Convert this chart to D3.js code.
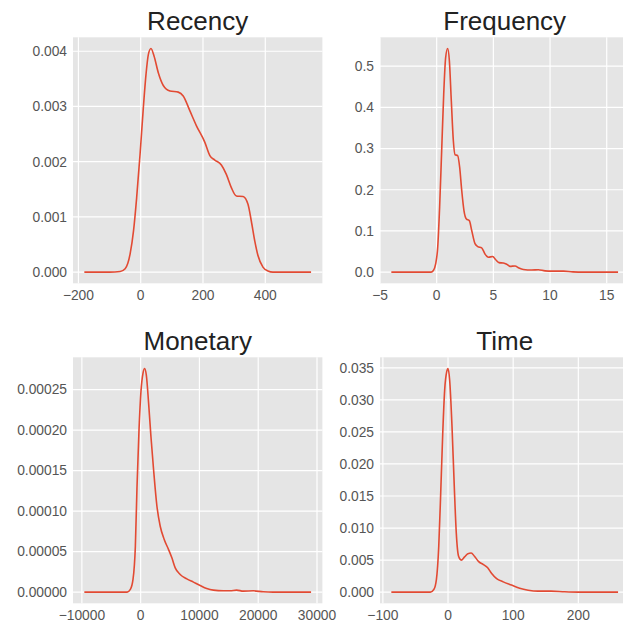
<!DOCTYPE html>
<html>
<head>
<meta charset="utf-8">
<script src="https://cdn.jsdelivr.net/npm/d3@7"></script>
<style>
  body { margin: 0; background: #ffffff; }
  text { font-family: "Liberation Sans", Arial, sans-serif; }
</style>
</head>
<body>
<div id="vis"></div>
<script>
// density curves (x, density)
var recencyX = [-181, -100, -66, -50, -34, -23, -13, -2, 8.5, 17, 24.5, 33, 43, 56.5, 72.5, 94, 120.5, 136.5, 158, 179, 206, 222, 238, 259, 275, 291, 307, 328.5, 344.5, 355, 366, 376.5, 392.5, 408.5, 424.5, 547];
var recencyY = [0, 0, 0.00001, 0.00006, 0.00033, 0.00075, 0.00135, 0.00214, 0.00298, 0.00358, 0.00394, 0.00405, 0.00391, 0.00361, 0.00338, 0.00328, 0.00326, 0.00319, 0.00292, 0.00265, 0.00235, 0.00211, 0.00203, 0.00194, 0.00177, 0.00153, 0.00138, 0.00137, 0.00123, 0.00093, 0.00057, 0.0003, 0.00009, 0.00002, 0, 0];

var frequencyX = [-4, -0.5, -0.29, -0.09, 0.09, 0.26, 0.44, 0.62, 0.79, 0.97, 1.12, 1.29, 1.47, 1.62, 1.85, 2.03, 2.21, 2.41, 2.62, 2.88, 3.09, 3.38, 3.62, 3.97, 4.26, 4.56, 4.94, 5.21, 5.5, 5.88, 6.18, 6.47, 6.91, 7.26, 7.65, 8.38, 8.97, 9.56, 10.15, 10.74, 11.2, 12, 13, 16];
var frequencyY = [0, 0, 0.004, 0.02, 0.06, 0.158, 0.295, 0.432, 0.521, 0.543, 0.513, 0.416, 0.319, 0.285, 0.283, 0.254, 0.198, 0.149, 0.129, 0.125, 0.101, 0.069, 0.062, 0.059, 0.044, 0.036, 0.038, 0.030, 0.023, 0.022, 0.019, 0.014, 0.015, 0.010, 0.0065, 0.005, 0.0057, 0.003, 0.0024, 0.0024, 0.0024, 0.0005, 0, 0];

var monetaryX = [-9580, -2300, -1750, -1300, -900, -620, -280, 56, 395, 678, 960, 1356, 1750, 2200, 2770, 3330, 4010, 4750, 5310, 5880, 6720, 7850, 8980, 10110, 11240, 12370, 14070, 15200, 16330, 17460, 19150, 20850, 22540, 28990];
var monetaryY = [0, 0, 0.0000033, 0.0000156, 0.0000567, 0.00013, 0.0002, 0.000248, 0.00027, 0.000276, 0.000268, 0.000233, 0.000192, 0.000151, 0.000106, 0.0000813, 0.0000649, 0.0000525, 0.0000423, 0.00003, 0.0000218, 0.0000164, 0.0000123, 0.0000082, 0.0000045, 0.0000025, 0.0000016, 0.0000016, 0.0000025, 0.0000012, 0.0000016, 0.0000004, 0, 0];

var timeX = [-87, -27, -21.8, -17.8, -14.2, -11.2, -8.1, -5.1, -2, 0, 2.5, 6.1, 9.6, 12.7, 16.2, 20.3, 25.4, 30.5, 35.5, 40.6, 46.7, 54.3, 60.9, 67, 74.6, 84.8, 97.5, 110, 123, 138, 158, 179, 200, 261];
var timeY = [0, 0, 0.0004, 0.002, 0.0072, 0.0155, 0.0248, 0.0316, 0.0344, 0.0349, 0.0331, 0.0259, 0.0165, 0.0092, 0.0056, 0.0050, 0.0055, 0.0060, 0.0061, 0.0056, 0.0048, 0.0043, 0.0038, 0.0029, 0.0021, 0.0016, 0.0011, 0.0006, 0.0003, 0.00015, 0.00015, 0.00005, 0, 0];

// tick labels
var recencyXTicks = [-200, 0, 200, 400];
var recencyYTicks = [0, 0.001, 0.002, 0.003, 0.004];
var frequencyXTicks = [-5, 0, 5, 10, 15];
var frequencyYTicks = [0, 0.1, 0.2, 0.3, 0.4, 0.5];
var monetaryXTicks = [-10000, 0, 10000, 20000, 30000];
var monetaryYTicks = [0, 0.00005, 0.0001, 0.00015, 0.0002, 0.00025];
var timeXTicks = [-100, 0, 100, 200];
var timeYTicks = [0, 0.005, 0.01, 0.015, 0.02, 0.025, 0.03, 0.035];

//Width and height
var w = 623;
var h = 624;
var pw = 249.4;
var ph = 246;

var panels = [
  { title: "Recency", xs: recencyX, ys: recencyY, xTicks: recencyXTicks, yTicks: recencyYTicks, fmt: ".3f", left: 73, top: 37.3 },
  { title: "Frequency", xs: frequencyX, ys: frequencyY, xTicks: frequencyXTicks, yTicks: frequencyYTicks, fmt: ".1f", left: 380, top: 37.3 },
  { title: "Monetary", xs: monetaryX, ys: monetaryY, xTicks: monetaryXTicks, yTicks: monetaryYTicks, fmt: ".5f", left: 73, top: 357.3 },
  { title: "Time", xs: timeX, ys: timeY, xTicks: timeXTicks, yTicks: timeYTicks, fmt: ".3f", left: 380, top: 357.3 }
];

//Create SVG element
var svg = d3.select("#vis")
  .append("svg")
  .attr("width", w)
  .attr("height", h);

panels.forEach(function(p) {
  var xmin = d3.min(p.xs), xmax = d3.max(p.xs);
  var xpad = (xmax - xmin) * 0.05;
  var ymax = d3.max(p.ys);

  var xScale = d3.scaleLinear()
    .domain([xmin - xpad, xmax + xpad])
    .range([0, pw]);
  var yScale = d3.scaleLinear()
    .domain([-ymax * 0.05, ymax * 1.05])
    .range([ph, 0]);

  var g = svg.append("g")
    .attr("transform", "translate(" + p.left + "," + p.top + ")");

  // background
  g.append("rect")
    .attr("width", pw)
    .attr("height", ph)
    .attr("fill", "#e5e5e5");

  // grid
  g.selectAll("line.gx")
    .data(p.xTicks)
    .enter()
    .append("line")
    .attr("class", "gx")
    .attr("x1", function(d) { return xScale(d); })
    .attr("x2", function(d) { return xScale(d); })
    .attr("y1", 0)
    .attr("y2", ph)
    .attr("stroke", "#ffffff")
    .attr("stroke-width", 1.2);

  g.selectAll("line.gy")
    .data(p.yTicks)
    .enter()
    .append("line")
    .attr("class", "gy")
    .attr("x1", 0)
    .attr("x2", pw)
    .attr("y1", function(d) { return yScale(d); })
    .attr("y2", function(d) { return yScale(d); })
    .attr("stroke", "#ffffff")
    .attr("stroke-width", 1.2);

  // tick labels
  var xf = d3.format(",.0f");
  g.selectAll("text.tx")
    .data(p.xTicks)
    .enter()
    .append("text")
    .attr("class", "tx")
    .attr("x", function(d) { return xScale(d); })
    .attr("y", ph + 16.3)
    .attr("text-anchor", "middle")
    .attr("font-size", "13.8px")
    .attr("fill", "#555555")
    .text(function(d) { return xf(d).replace(/,/g, ""); });

  var yf = d3.format(p.fmt);
  g.selectAll("text.ty")
    .data(p.yTicks)
    .enter()
    .append("text")
    .attr("class", "ty")
    .attr("x", -6)
    .attr("y", function(d) { return yScale(d); })
    .attr("dy", "0.35em")
    .attr("text-anchor", "end")
    .attr("font-size", "13.8px")
    .attr("fill", "#555555")
    .text(function(d) { return yf(d); });

  // density line
  var line = d3.line()
    .x(function(d) { return xScale(d[0]); })
    .y(function(d) { return yScale(d[1]); })
    .curve(d3.curveMonotoneX);

  g.append("path")
    .datum(d3.zip(p.xs, p.ys))
    .attr("d", line)
    .attr("fill", "none")
    .attr("stroke", "#e24a33")
    .attr("stroke-width", 1.6);

  // title
  g.append("text")
    .attr("x", pw / 2)
    .attr("y", -7)
    .attr("text-anchor", "middle")
    .attr("font-size", "26px")
    .attr("fill", "#222222")
    .text(p.title);
});
</script>
</body>
</html>
